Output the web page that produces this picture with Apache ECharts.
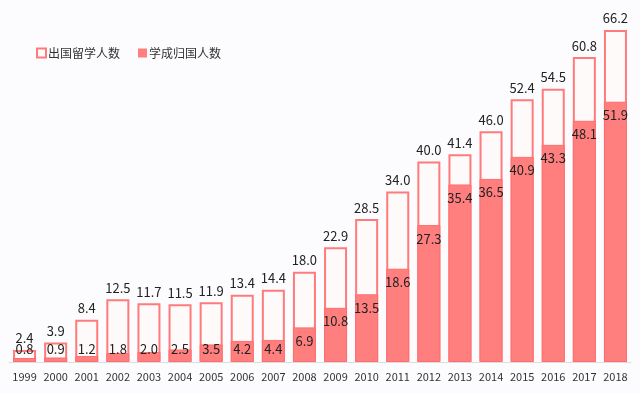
<!DOCTYPE html>
<html><head><meta charset="utf-8">
<script src="https://cdn.jsdelivr.net/npm/echarts@6/dist/echarts.min.js"></script>
<style>html,body{margin:0;padding:0;background:#fcfcfe;}#c{width:640px;height:393px;}</style>
</head><body><div id="c"></div>
<script>
var years = ['1999','2000','2001','2002','2003','2004','2005','2006','2007','2008','2009','2010','2011','2012','2013','2014','2015','2016','2017','2018'];
var outgoing = [2.4,3.9,8.4,12.5,11.7,11.5,11.9,13.4,14.4,18.0,22.9,28.5,34.0,40.0,41.4,46.0,52.4,54.5,60.8,66.2];
var returning = [0.8,0.9,1.2,1.8,2.0,2.5,3.5,4.2,4.4,6.9,10.8,13.5,18.6,27.3,35.4,36.5,40.9,43.3,48.1,51.9];
var seriesNames = ['出国留学人数','学成归国人数'];

var font = '"Noto Sans CJK SC", "Noto Sans", sans-serif';
var chart = echarts.init(document.getElementById('c'));
chart.setOption({
  backgroundColor: '#fcfcfe',
  animation: false,
  legend: {
    left: 31, top: 42, itemWidth: 9, itemHeight: 9, itemGap: 18,
    textStyle: {fontFamily: font, fontSize: 12, color: '#333', padding: [0, 0, 0, -3]},
    data: [
      {name: seriesNames[0], icon: 'rect', itemStyle: {color: '#fffafa', borderColor: '#ff7b7b', borderWidth: 2}},
      {name: seriesNames[1], icon: 'rect', itemStyle: {color: '#ff7f7f', borderWidth: 0}}
    ]
  },
  grid: {left: 9, right: 9, top: 30, bottom: 31},
  xAxis: {
    type: 'category', data: years,
    axisLine: {lineStyle: {color: '#dddddd'}},
    axisTick: {show: false},
    axisLabel: {interval: 0, fontFamily: font, fontSize: 11, color: '#333', margin: 9}
  },
  yAxis: {type: 'value', min: 0, max: 66.2, show: false, splitLine: {show: false}},
  series: [
    {
      name: seriesNames[0], type: 'bar', barWidth: '74%', barGap: '-100%', z: 2,
      data: outgoing,
      itemStyle: {color: '#fffafa', borderColor: '#ff7b7b', borderWidth: 2},
      label: {show: true, position: 'top', distance: 5, fontFamily: font, fontSize: 13, color: '#222',
        formatter: function(p){return p.value.toFixed(1);}}
    },
    {
      name: seriesNames[1], type: 'bar', barWidth: '74%', z: 3,
      data: returning.map(function(v){
        return {value: v, label: {position: v < 5.8 ? 'insideBottom' : 'insideTop', distance: v < 5.8 ? 6 : 7}};
      }),
      itemStyle: {color: '#ff7f7f', borderColor: '#ff6e6e', borderWidth: 1},
      label: {show: true, fontFamily: font, fontSize: 13, color: '#222',
        formatter: function(p){return p.value.toFixed(1);}}
    }
  ]
});
</script></body></html>
